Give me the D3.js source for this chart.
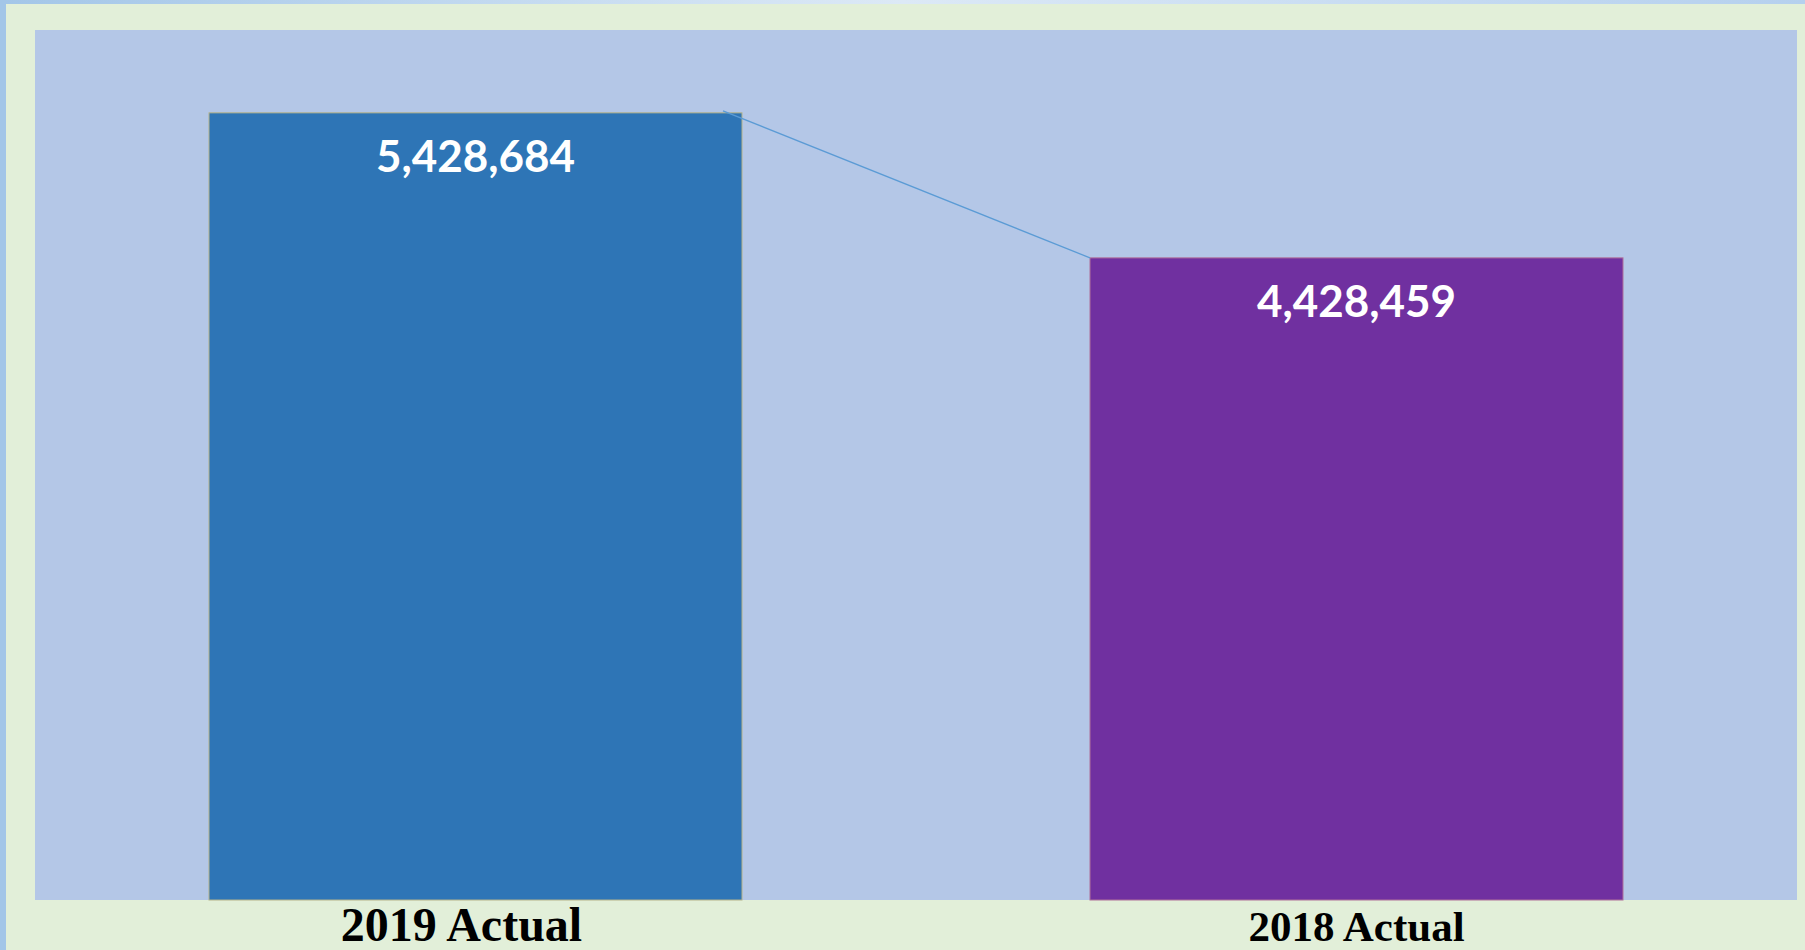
<!DOCTYPE html>
<html><head><meta charset="utf-8">
<script src="https://cdn.jsdelivr.net/npm/d3@7"></script>
<style>html,body{margin:0;padding:0;overflow:hidden;background:#fff}</style>
</head><body>
<svg id="c" width="1805" height="950"></svg>
<script>
const categories = ["2019 Actual", "2018 Actual"];
const values = [5428684, 4428459];
const barColors = ["#2E75B6", "#7030A0"];
const barStrokes = ["#B5B38A", "#B0709A"];
const catFontSizes = [48, 43];
const catOffsets = [-14, 0];

const W = 1805, H = 950;
const svg = d3.select("#c");
const defs = svg.append("defs");
const g1 = defs.append("linearGradient").attr("id","topg").attr("x1","0").attr("x2","1").attr("y1","0").attr("y2","0");
g1.append("stop").attr("offset","0").attr("stop-color","#A3C6E8");
g1.append("stop").attr("offset","0.5").attr("stop-color","#DCE9F6");
g1.append("stop").attr("offset","1").attr("stop-color","#B5D0EE");
svg.append("rect").attr("x",0).attr("y",0).attr("width",W).attr("height",H).attr("fill","url(#topg)");
svg.append("rect").attr("x",0).attr("y",0).attr("width",6).attr("height",H).attr("fill","#A3C6E8");
svg.append("rect").attr("x",6).attr("y",4).attr("width",W-6).attr("height",H-4).attr("fill","#E2EFD9");

const plot = {left:35, right:1797, top:30, bottom:900};
svg.append("rect").attr("x",plot.left).attr("y",plot.top)
  .attr("width",plot.right-plot.left).attr("height",plot.bottom-plot.top).attr("fill","#B4C7E7");

const x = d3.scaleBand().domain(categories).range([plot.left, plot.right]).paddingInner(0.395).paddingOuter(0.1975);
const y = d3.scaleLinear().domain([0, 6000000]).range([plot.bottom, plot.top]);

const data = categories.map((c,i)=>({c, v:values[i], i}));

svg.selectAll("rect.bar").data(data).enter().append("rect").attr("class","bar")
  .attr("x", d=>x(d.c)).attr("y", d=>y(d.v))
  .attr("width", x.bandwidth()).attr("height", d=>y(0)-y(d.v))
  .attr("fill", d=>barColors[d.i]).attr("stroke", d=>barStrokes[d.i]).attr("stroke-width",1);

// series line connector
svg.append("line")
  .attr("x1", x(categories[0]) + x.bandwidth() - 19).attr("y1", y(values[0]) - 2)
  .attr("x2", x(categories[1])).attr("y2", y(values[1]))
  .attr("stroke","#5B9BD5").attr("stroke-width",1.3);

svg.selectAll("text.val").data(data).enter().append("text").attr("class","val")
  .attr("x", d=>x(d.c)+x.bandwidth()/2).attr("y", d=>y(d.v)+59)
  .attr("text-anchor","middle").attr("fill","#FFFFFF")
  .style("font-family","Lato, 'Open Sans', sans-serif").style("font-weight","bold").style("font-size","44px")
  .text(d=>d3.format(",")(d.v));

svg.selectAll("text.cat").data(data).enter().append("text").attr("class","cat")
  .attr("x", d=>x(d.c)+x.bandwidth()/2+catOffsets[d.i]).attr("y", 941)
  .attr("text-anchor","middle").attr("fill","#000")
  .style("font-family","'Liberation Serif', 'Times New Roman', serif").style("font-weight","bold")
  .style("font-size", d=>catFontSizes[d.i]+"px")
  .text(d=>d.c);
</script>
</body></html>
